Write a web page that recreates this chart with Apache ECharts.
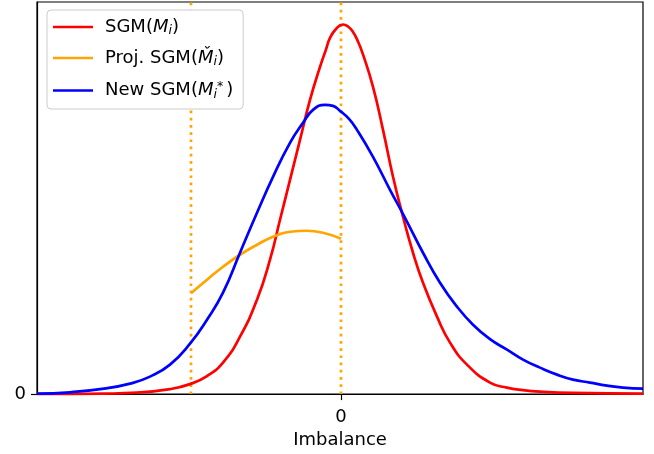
<!DOCTYPE html>
<html>
<head>
<meta charset="utf-8">
<script src="https://cdn.jsdelivr.net/npm/echarts@6/dist/echarts.min.js"></script>
<style>
  html, body { margin: 0; padding: 0; background: #fff; }
  #chart { width: 654px; height: 454px; }
</style>
</head>
<body>
<div id="chart"></div>
<script>
// x in units of "imbalance", 0 at the tick; y is density (arbitrary units)
const sgmX = [-3.04, -2.37, -2.04, -1.71, -1.51, -1.34, -1.18, -1.01, -0.84, -0.71, -0.61, -0.51, -0.41, -0.31, -0.21, -0.15, -0.11, -0.05, 0.02, 0.07, 0.12, 0.17, 0.22, 0.32, 0.42, 0.52, 0.62, 0.72, 0.82, 0.96, 1.09, 1.26, 1.49, 1.66, 1.82, 1.99, 2.32, 3.02]
const sgmY = [0, 0.005, 0.015, 0.05, 0.1, 0.18, 0.315, 0.575, 0.945, 1.345, 1.745, 2.145, 2.545, 2.945, 3.275, 3.45, 3.565, 3.655, 3.70, 3.68, 3.625, 3.53, 3.40, 3.075, 2.645, 2.175, 1.775, 1.415, 1.115, 0.775, 0.515, 0.295, 0.115, 0.065, 0.04, 0.025, 0.012, 0.005]

const newX = [-3.04, -2.71, -2.37, -2.11, -1.91, -1.71, -1.51, -1.34, -1.18, -1.01, -0.84, -0.68, -0.51, -0.38, -0.28, -0.16, -0.08, -0.01, 0.08, 0.16, 0.32, 0.49, 0.64, 0.82, 0.99, 1.16, 1.32, 1.49, 1.66, 1.82, 1.99, 2.16, 2.32, 2.49, 2.66, 2.82, 3.02]
const newY = [0.005, 0.018, 0.055, 0.105, 0.175, 0.295, 0.505, 0.745, 1.015, 1.415, 1.815, 2.175, 2.515, 2.715, 2.845, 2.895, 2.885, 2.835, 2.755, 2.645, 2.375, 2.045, 1.765, 1.415, 1.115, 0.875, 0.695, 0.55, 0.445, 0.345, 0.265, 0.195, 0.145, 0.115, 0.085, 0.065, 0.055]

const projX = [-1.5, -1.34, -1.18, -1.01, -0.84, -0.68, -0.51, -0.34, -0.18, 0]
const projY = [1.01, 1.145, 1.275, 1.395, 1.495, 1.575, 1.625, 1.635, 1.615, 1.555]

// dotted orange cut-offs
const cutLines = [-1.5, 0]

const xMin = -3.04, xMax = 3.02, yMax = 3.925

function pairs(xs, ys) {
  return xs.map((x, i) => [x, ys[i]])
}

const font = 'DejaVu Sans'
const lw = 2.7
let myChart = echarts.init(document.getElementById('chart'))

let cutSeries = cutLines.map((v, i) => ({
  name: 'cut' + i, type: 'line', symbol: 'none', silent: true, z: 1,
  lineStyle: { color: '#ffa500', width: lw, type: [2.7, 4.5] },
  data: [[v, 0], [v, yMax]]
}))

function curve(name, color, xs, ys) {
  return {
    name: name, type: 'line', smooth: 0.5, symbol: 'none', z: 3,
    color: color,
    lineStyle: { width: lw, color: color },
    data: pairs(xs, ys)
  }
}

let option = {
  animation: false,
  textStyle: { fontFamily: font },
  grid: {
    left: 37, right: 11, top: 2, bottom: 59.5,
    show: true, borderColor: '#000', borderWidth: 1.2
  },
  legend: {
    orient: 'vertical',
    left: 47, top: 10,
    padding: [8, 10, 8, 6],
    icon: 'rect',
    itemWidth: 40, itemHeight: lw, itemGap: 11.5,
    backgroundColor: '#fff',
    borderColor: '#cccccc', borderWidth: 1, borderRadius: 4,
    data: ['sgm', 'proj', 'new'],
    formatter: function (name) {
      if (name === 'sgm') return '{n|SGM(}{it|M}{sub|i}{n|)}'
      if (name === 'proj') return '{n|Proj. SGM(}{it|M\u030C}{sub|i}{n|)}'
      return '{n|New SGM(}{it|M}{sub|i}{sup|*}{n|)}'
    },
    textStyle: {
      padding: [0, 0, 0, 7],
      rich: {
        n: { fontFamily: font, fontSize: 18, color: '#000', height: 20 },
        it: { fontFamily: font, fontSize: 18, fontStyle: 'italic', color: '#000' },
        sub: { fontFamily: font, fontSize: 12.5, fontStyle: 'italic', color: '#000', padding: [8, 0, 0, 0] },
        sup: { fontFamily: font, fontSize: 12.5, color: '#000', padding: [0, 3, 8, 0] }
      }
    }
  },
  xAxis: {
    type: 'value',
    min: xMin, max: xMax,
    name: 'Imbalance',
    nameLocation: 'middle',
    nameGap: 36,
    nameTextStyle: { fontFamily: font, fontSize: 18, color: '#000' },
    splitLine: { show: false },
    axisLine: { onZero: false, lineStyle: { color: '#000', width: 1.2 } },
    axisTick: { show: true, length: 6, lineStyle: { color: '#000', width: 1.2 }, customValues: [0] },
    axisLabel: {
      fontFamily: font, fontSize: 18, color: '#000', margin: 14, customValues: [0],
      formatter: () => '0'
    }
  },
  yAxis: {
    type: 'value',
    min: 0, max: yMax,
    splitLine: { show: false },
    axisLine: { show: true, onZero: false, lineStyle: { color: '#000', width: 1.2 } },
    axisTick: { show: true, length: 6, lineStyle: { color: '#000', width: 1.2 }, customValues: [0] },
    axisLabel: {
      fontFamily: font, fontSize: 18, color: '#000', margin: 11, customValues: [0],
      formatter: () => '0'
    }
  },
  series: cutSeries.concat([
    curve('sgm', '#ff0000', sgmX, sgmY),
    curve('proj', '#ffa500', projX, projY),
    curve('new', '#0000ff', newX, newY)
  ])
}

myChart.setOption(option)
</script>
</body>
</html>
